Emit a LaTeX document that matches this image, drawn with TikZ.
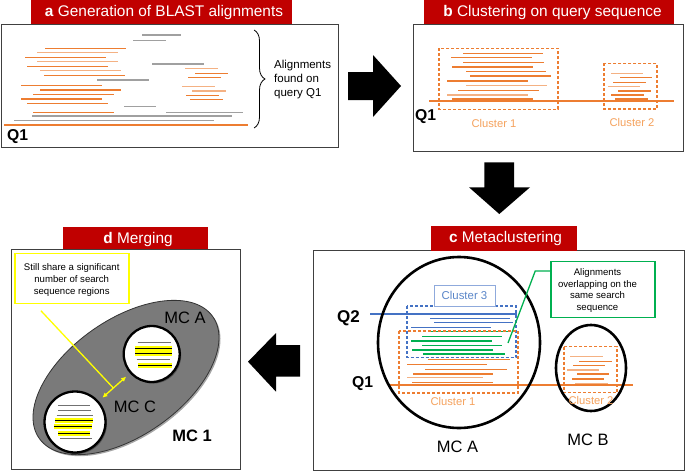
\documentclass[tikz,border=0pt]{standalone}
\usepackage{fontspec}
\setmainfont{Liberation Sans}
\usetikzlibrary{arrows.meta,decorations.pathreplacing,calc,shadows}
\definecolor{tred}{HTML}{C00000}
\definecolor{lo}{HTML}{ED7D31}
\definecolor{llo}{HTML}{F4B183}
\definecolor{lg}{HTML}{A0A0A0}
\definecolor{qblue}{HTML}{4472C4}
\definecolor{lgr}{HTML}{00B050}
\definecolor{lblab}{HTML}{8FAADC}
\definecolor{lbtxt}{HTML}{5A86C9}
\definecolor{otxt}{HTML}{F5A25D}
\definecolor{dgrey}{HTML}{4D4D4D}
\definecolor{ellgrey}{HTML}{7A7A7A}
\definecolor{hlyel}{HTML}{FFFF00}
\begin{document}
\begin{tikzpicture}[x=1pt,y=-1pt,
  panel/.style={draw=black!75,line width=0.9pt,fill=white},
  titlebar/.style={fill=tred,draw=none},
  titletext/.style={text=white,inner sep=0,font=\fontsize{15.4}{18}\selectfont},
  qlabel/.style={inner sep=0,anchor=west,font=\fontsize{15.7}{18}\selectfont\bfseries},
  clabel/.style={inner sep=0,text=otxt,font=\fontsize{11.2}{13}\selectfont},
  mclabel/.style={inner sep=0,font=\fontsize{16.5}{19}\selectfont},
  smalltext/.style={inner sep=0,align=center,font=\fontsize{9.6}{11.7}\selectfont},
  aln/.style={line width=1.3pt},
  qline/.style={line width=2pt},
  dbox/.style={dashed,dash pattern=on 3pt off 2pt,line width=1.3pt},
  blockarrow/.style={fill=black,draw=none},
  hl/.style={line width=4.5pt,draw=hlyel},
  hlk/.style={line width=1.1pt,draw=black},
  gk/.style={line width=1pt,draw=dgrey!80},
  sh/.style={drop shadow={shadow xshift=1.5pt,shadow yshift=-1.5pt,opacity=0.35,fill=black}}
]
\useasboundingbox (0,0) rectangle (685,471);
\fill[white] (0,0) rectangle (685,471);

% ================= Panel a =================
\draw[panel] (1,24) rectangle (338,147);
\fill[titlebar] (31,0) rectangle (292,24);
\node[titletext] (ta) at (164,12.5) {\textbf{a} Generation of BLAST alignments};
\foreach \a/\b/\c/\s in {
 142/181/35/lg, 133/166/40.7/lg, 45/126/48.3/lo, 37/118/52.7/llo, 25/106/57.3/lo,
 37/118/61.7/llo, 27/108/66.3/lo, 40/121/70.7/llo, 44/125/75.3/lo, 152/204/64/lg,
 185/218/68.7/llo, 195/228/73.3/lo, 188/221/77.3/lo, 97/149/80/lg, 21/102/85.3/lo,
 182/215/86.7/llo, 40/121/90/lo, 192/226/91/llo, 33/114/94.7/lo, 186/219/95.3/lo,
 21/102/99/lo, 190/223/99.3/lo, 27/108/103.7/lo, 124/156/106.7/lg, 33/114/112.3/lo,
 166/243/112.3/lg, 32/232/116/lg, 14/214/120.3/lg}
 \draw[aln,color=\s] (\a,\c) -- (\b,\c);
\draw[qline,color=lo] (4,124.7) -- (248,124.7);
\node[qlabel] (qa) at (7,137) {Q1};
\coordinate (bt) at (254,30);
\coordinate (bb) at (254,128);
\draw[line width=0.8pt,decorate,decoration={brace,amplitude=11pt}] (bt) -- (bb);
\node[inner sep=0,anchor=west,align=left,font=\fontsize{11.5}{14}\selectfont] (brt) at (274,80) {Alignments\\found on\\query Q1};

% arrow a -> b
\fill[blockarrow] (348,72) -- (373,72) -- (373,55) -- (401,86) -- (373,117) -- (373,100) -- (348,100) -- cycle;

% ================= Panel b =================
\draw[panel] (413,24) rectangle (683,151);
\fill[titlebar] (424,0) rectangle (674,24);
\node[titletext] (tb) at (552.5,12.5) {\textbf{b} Clustering on query sequence};
\foreach \a/\b/\c/\s in {
 463/543/53.3/lo, 451/532/57.7/lo, 463/544/62.3/lo, 452/533/67/lo, 466/546/71.3/lo,
 470/551/76/lo, 447/528/81/lo, 466/547/85.7/llo, 458/539/90.3/lo, 447/528/95/llo,
 452/533/99/lo,
 611/643/73.3/llo, 620/652/77.7/lo, 613/646/82.3/lo, 608/640/86.7/llo, 618/651/91/lo,
 611/644/95/lo, 615/648/99/lo}
 \draw[aln,color=\s] (\a,\c) -- (\b,\c);
\draw[qline,color=lo] (429,101.3) -- (674,101.3);
\draw[dbox,draw=lo] (439,48.3) rectangle (558,109.3);
\draw[dbox,draw=lo] (604,63.3) rectangle (657,109);
\node[qlabel] (qb) at (415,117) {Q1};
\node[clabel] (cb1) at (494,123) {Cluster 1};
\node[clabel] (cb2) at (632,122.7) {Cluster 2};

% arrow b -> c (down)
\fill[blockarrow] (484.3,162.3) -- (514,162.3) -- (514,187.3) -- (530,187.3) -- (499.3,214) -- (469,187.3) -- (484.3,187.3) -- cycle;

% ================= Panel c =================
\draw[panel] (313,250.7) rectangle (684,470);
\fill[titlebar] (431,226) rectangle (577,250.7);
\node[titletext] (tc) at (505.5,238.5) {\textbf{c} Metaclustering};
\draw[qblue,line width=2pt] (370,313.5) -- (517,313.5);
\foreach \a/\b/\c/\s in {
 430/510/318.3/qblue, 434/513/322.7/qblue, 411/491/327.3/qblue,
 430/510/331.7/lgr, 422/502/336.7/lgr, 411/492/341/lgr, 422/502/345.7/lgr, 412/493/350/lgr, 423/505/354/lgr,
 428/510/359.3/lo, 407/487/364.3/lo, 425/507/369.3/lo, 413/493/374/lo, 407/483/377.7/llo, 412/493/382.5/lo,
 570/603/356.7/llo, 579/612/361.7/lo, 573/605/365.7/lo, 567/599/370/llo, 577/609/374/lo, 572/604/379/lo, 575/608/383.3/llo}
 \draw[aln,color=\s] (\a,\c) -- (\b,\c);
\draw[qline,color=lo] (388,385) -- (633,385);
\draw[dbox,draw=qblue] (407,306) rectangle (516,357.3);
\draw[dbox,draw=lo] (399,331) rectangle (518,393);
\draw[dbox,draw=lo] (564,346.7) rectangle (617,392.7);
\node[draw=lblab,fill=white,line width=0.9pt,minimum width=61pt,minimum height=21pt,inner sep=0,text=lbtxt,font=\fontsize{11.4}{13}\selectfont] (cl3) at (464.5,295.5) {Cluster 3};
\draw[line width=2.6pt] (459,342.5) ellipse [x radius=81, y radius=85.5];
\draw[line width=2.6pt] (591,368) ellipse [x radius=35, y radius=43];
\node[clabel] (cc1) at (453,401.7) {Cluster 1};
\node[clabel] (cc2) at (591,400) {Cluster 2};
\node[qlabel,font=\fontsize{17}{19}\selectfont\bfseries] (q2) at (337,318) {Q2};
\node[qlabel] (q1c) at (352,383.5) {Q1};
\node[mclabel] (mca) at (457.5,447) {MC A};
\node[mclabel] (mcb) at (588,440) {MC B};
\node[draw=lgr,line width=1.5pt,fill=white,minimum width=104pt,minimum height=56pt,inner sep=0] (gbox) at (603,289.7) {};
\node[smalltext] (gtext) at (597.5,290.5) {Alignments\\overlapping on the\\same search\\sequence};
\coordinate (gk1) at ($(gbox.north west)+(0,10)$);
\coordinate (gk2) at ($(gk1)+(-15,0)$);
\coordinate (gend) at (508,343);
\draw[lgr,line width=1.3pt] (gk1) -- (gk2) -- (gend);

% arrow c -> d (left)
\fill[blockarrow] (300,345) -- (276,345) -- (276,333) -- (248,361.7) -- (276,391.7) -- (276,376.7) -- (300,376.7) -- cycle;

% ================= Panel d =================
\draw[panel] (11.7,249.3) rectangle (240.7,469.3);
\fill[titlebar] (62.7,226.7) rectangle (208.3,249.3);
\node[titletext] (td) at (138,240) {\textbf{d} Merging};
\draw[sh,fill=ellgrey,draw=black!80,line width=0.8pt,shift={(126,377.5)},rotate=35] (0,0) ellipse [x radius=106, y radius=58];
\node[sh,circle,draw=black,line width=2.3pt,fill=white,minimum size=56pt,inner sep=0] (mcAd) at (151.7,354) {};
\node[sh,circle,draw=black,line width=2.3pt,fill=white,minimum size=61pt,inner sep=0] (mcCd) at (75,422) {};
\foreach \a/\b/\c in {135/172.3/348.3, 135/172.3/353.3, 138.3/171.7/365.7, 55/93.3/420.7, 54.3/91.7/426.7, 58.3/90/433.3}
 {\draw[hl] (\a,\c) -- (\b,\c); \draw[hlk] (\a,\c) -- (\b,\c);}
\foreach \a/\b/\c in {137.7/171/342.7, 136.7/170/359.3, 58.3/90/405, 58/91/410, 56.7/93.3/415, 60/91.7/438.3}
 \draw[gk] (\a,\c) -- (\b,\c);
\node[mclabel] (mcAl) at (185,318) {MC A};
\node[mclabel] (mcCl) at (135,407) {MC C};
\node[mclabel,font=\fontsize{16.5}{19}\selectfont\bfseries] (mc1) at (192,436) {MC 1};
\node[draw=hlyel,line width=1.5pt,fill=white,minimum width=114pt,minimum height=50pt,inner sep=0] (ybox) at (72,278.3) {};
\node[smalltext] (ytext) at (71.7,280) {Still share a significant\\number of search\\sequence regions};
\draw[hlyel,line width=1.3pt,{Latex[length=5pt,width=5pt]}-{Latex[length=5pt,width=5pt]},shorten <=5pt,shorten >=5pt] (mcCd) -- (mcAd);
\coordinate (ystart) at ($(ybox.south west)+(26.7,6.7)$);
\coordinate (amid) at ($(mcCd)!0.5!(mcAd)$);
\draw[hlyel,line width=1.3pt] (ystart) -- (amid);
\end{tikzpicture}
\end{document}
